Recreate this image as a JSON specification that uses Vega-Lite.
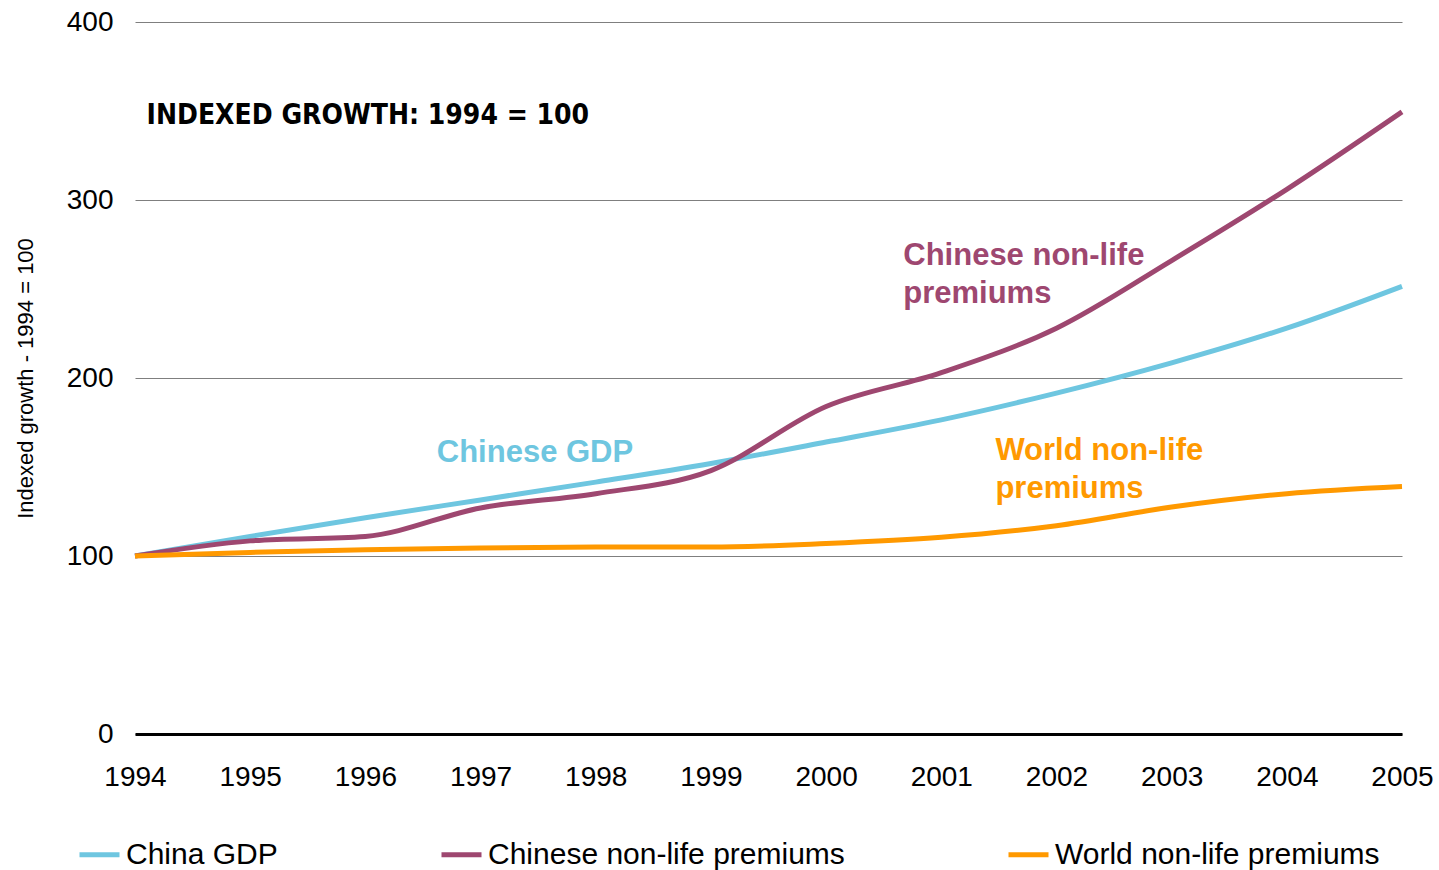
{
  "$schema": "https://vega.github.io/schema/vega-lite/v6.json",
  "width": 1267,
  "height": 712,
  "autosize": {"type": "none"},
  "padding": {"left": 135, "top": 22, "right": 37, "bottom": 136},
  "background": "white",
  "config": {
    "view": {"stroke": null},
    "font": "Liberation Sans"
  },
  "datasets": {
    "series": [
      {"year": 1994, "series": "China GDP", "value": 100},
      {"year": 1995, "series": "China GDP", "value": 111},
      {"year": 1996, "series": "China GDP", "value": 121.5},
      {"year": 1997, "series": "China GDP", "value": 131.5},
      {"year": 1998, "series": "China GDP", "value": 141.5},
      {"year": 1999, "series": "China GDP", "value": 152},
      {"year": 2000, "series": "China GDP", "value": 164},
      {"year": 2001, "series": "China GDP", "value": 176.5},
      {"year": 2002, "series": "China GDP", "value": 191.5},
      {"year": 2003, "series": "China GDP", "value": 208.5},
      {"year": 2004, "series": "China GDP", "value": 228},
      {"year": 2005, "series": "China GDP", "value": 251.5},
      {"year": 1994, "series": "Chinese non-life premiums", "value": 100},
      {"year": 1995, "series": "Chinese non-life premiums", "value": 108.5},
      {"year": 1996, "series": "Chinese non-life premiums", "value": 111},
      {"year": 1997, "series": "Chinese non-life premiums", "value": 127},
      {"year": 1998, "series": "Chinese non-life premiums", "value": 135},
      {"year": 1999, "series": "Chinese non-life premiums", "value": 148},
      {"year": 2000, "series": "Chinese non-life premiums", "value": 184},
      {"year": 2001, "series": "Chinese non-life premiums", "value": 203},
      {"year": 2002, "series": "Chinese non-life premiums", "value": 228},
      {"year": 2003, "series": "Chinese non-life premiums", "value": 266},
      {"year": 2004, "series": "Chinese non-life premiums", "value": 306},
      {"year": 2005, "series": "Chinese non-life premiums", "value": 349.5},
      {"year": 1994, "series": "World non-life premiums", "value": 100},
      {"year": 1995, "series": "World non-life premiums", "value": 102},
      {"year": 1996, "series": "World non-life premiums", "value": 103.5},
      {"year": 1997, "series": "World non-life premiums", "value": 104.5},
      {"year": 1998, "series": "World non-life premiums", "value": 105},
      {"year": 1999, "series": "World non-life premiums", "value": 105},
      {"year": 2000, "series": "World non-life premiums", "value": 107},
      {"year": 2001, "series": "World non-life premiums", "value": 110.5},
      {"year": 2002, "series": "World non-life premiums", "value": 117},
      {"year": 2003, "series": "World non-life premiums", "value": 127.5},
      {"year": 2004, "series": "World non-life premiums", "value": 135},
      {"year": 2005, "series": "World non-life premiums", "value": 139}
    ],
    "labels": [
      {"year": 1996.62, "value": 157.9, "series": "China GDP", "label": "Chinese GDP"},
      {"year": 2000.67, "value": 268.5, "series": "Chinese non-life premiums", "label": "Chinese non-life"},
      {"year": 2000.67, "value": 247.2, "series": "Chinese non-life premiums", "label": "premiums"},
      {"year": 2001.47, "value": 159, "series": "World non-life premiums", "label": "World non-life"},
      {"year": 2001.47, "value": 137.6, "series": "World non-life premiums", "label": "premiums"}
    ],
    "note": [
      {"year": 1994.1, "value": 347.3, "label": "INDEXED GROWTH: 1994 = 100"}
    ]
  },
  "layer": [
    {
      "data": {"name": "series"},
      "mark": {"type": "line", "interpolate": "monotone", "strokeWidth": 5},
      "encoding": {
        "x": {
          "field": "year", "type": "quantitative",
          "scale": {"domain": [1994, 2005], "nice": false, "zero": false},
          "axis": {
            "values": [1994,1995,1996,1997,1998,1999,2000,2001,2002,2003,2004,2005],
            "format": "d", "title": null, "grid": false, "ticks": false,
            "domainColor": "#000000", "domainWidth": 3,
            "labelFontSize": 28, "labelColor": "#000000", "labelPadding": 29,
            "labelFlush": false, "labelBound": false, "labelOverlap": false
          }
        },
        "y": {
          "field": "value", "type": "quantitative",
          "scale": {"domain": [0, 400], "nice": false},
          "axis": {
            "values": [0, 100, 200, 300, 400],
            "title": "Indexed growth - 1994 = 100", "titleFontSize": 22,
            "titleFontWeight": "normal", "titleColor": "#000000", "titlePadding": 29,
            "domain": false, "ticks": false, "grid": true,
            "gridColor": "#7f7f7f", "gridWidth": 1,
            "labelFontSize": 28, "labelColor": "#000000", "labelPadding": 22
          }
        },
        "color": {
          "field": "series", "type": "nominal",
          "scale": {
            "domain": ["China GDP", "Chinese non-life premiums", "World non-life premiums"],
            "range": ["#6ec6e0", "#9e4770", "#ff9900"]
          },
          "legend": {
            "orient": "none", "legendX": -58, "legendY": 810,
            "direction": "horizontal", "title": null,
            "symbolType": "stroke", "symbolSize": 1600, "symbolStrokeWidth": 5,
            "labelFontSize": 30, "labelColor": "#000000", "labelOffset": 4,
            "columnPadding": 153, "labelLimit": 600
          }
        }
      }
    },
    {
      "data": {"name": "labels"},
      "mark": {"type": "text", "align": "left", "baseline": "middle", "fontSize": 31, "fontWeight": "bold"},
      "encoding": {
        "x": {"field": "year", "type": "quantitative"},
        "y": {"field": "value", "type": "quantitative"},
        "text": {"field": "label"},
        "color": {"field": "series", "type": "nominal"}
      }
    },
    {
      "data": {"name": "note"},
      "mark": {"type": "text", "align": "left", "baseline": "middle", "fontSize": 28, "fontWeight": "bold", "font": "DejaVu Sans Condensed", "color": "#000000"},
      "encoding": {
        "x": {"field": "year", "type": "quantitative"},
        "y": {"field": "value", "type": "quantitative"},
        "text": {"field": "label"}
      }
    }
  ]
}
